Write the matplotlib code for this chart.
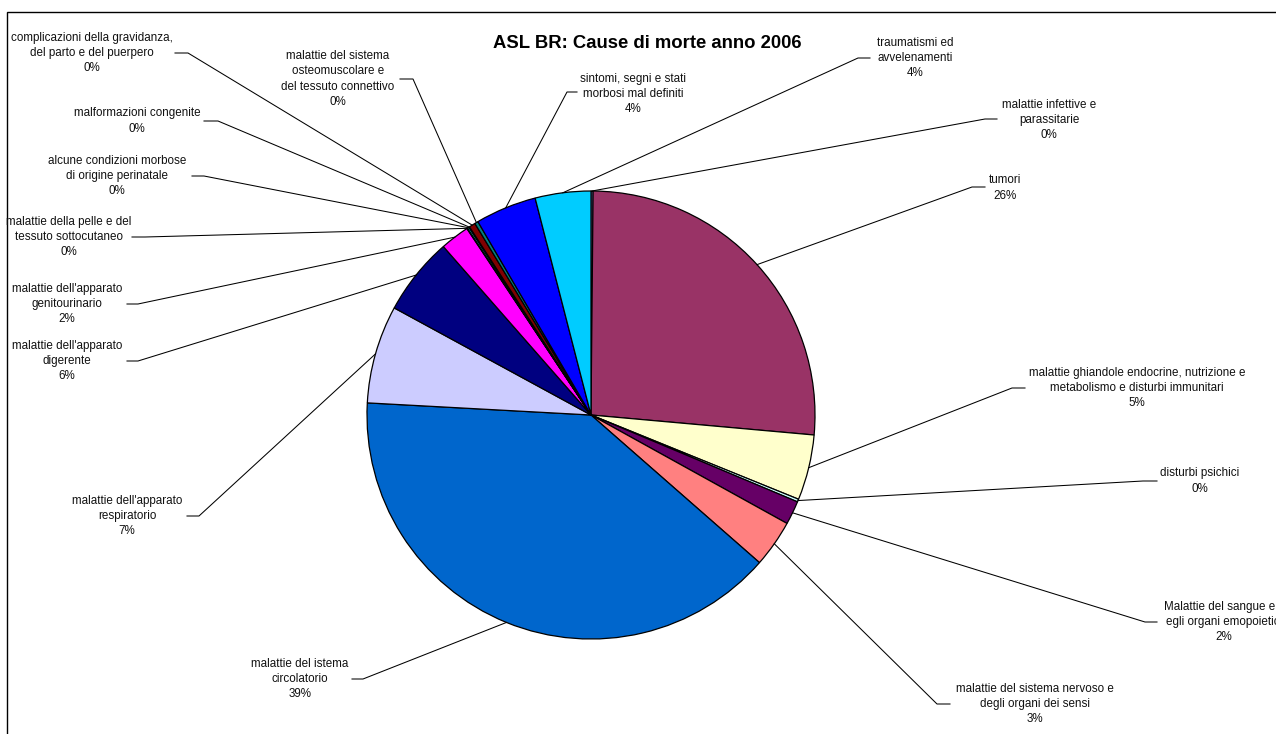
import matplotlib
matplotlib.use("Agg")
import matplotlib.pyplot as plt
from matplotlib.patches import Rectangle
import numpy as np

# cause di morte, in ordine di disegno (senso orario dall'alto)
cause = [
    "malattie infettive e\nparassitarie",
    "tumori",
    "malattie ghiandole endocrine, nutrizione e\nmetabolismo e disturbi immunitari",
    "disturbi psichici",
    "Malattie del sangue e d\negli organi emopoietici",
    "malattie del sistema nervoso e\ndegli organi dei sensi",
    "malattie del istema\ncircolatorio",
    "malattie dell'apparato\nrespiratorio",
    "malattie dell'apparato\ndigerente",
    "malattie dell'apparato\ngenitourinario",
    "malattie della pelle e del\ntessuto sottocutaneo",
    "alcune condizioni morbose\ndi origine perinatale",
    "malformazioni congenite",
    "complicazioni della gravidanza,\ndel parto e del puerpero",
    "malattie del sistema\nosteomuscolare e\ndel tessuto connettivo",
    "sintomi, segni e stati\nmorbosi mal definiti",
    "traumatismi ed\navvelenamenti",
]
quote = [0.15, 26.2, 4.7, 0.2, 1.7, 3.4, 39.3, 7.05, 5.6, 2.1,
         0.05, 0.12, 0.05, 0.45, 0.25, 4.4, 4.0]
colori = ["#9999FF", "#993366", "#FFFFCC", "#CCFFFF", "#660066", "#FF8080",
          "#0066CC", "#CCCCFF", "#000080", "#FF00FF", "#FFFF00", "#00FFFF",
          "#800080", "#800000", "#008080", "#0000FF", "#00CCFF"]

# posizione etichette (pixel, y verso il basso): centro testo, inizio e gomito della linea guida
pos_testo = [(1049, 120), (1005, 188), (1137, 388), (1200, 481), (1224, 622),
             (1035, 704), (300, 679), (127, 516), (67, 361), (67, 304),
             (69, 237), (117, 176), (137, 121), (92, 53), (338, 79),
             (633, 94), (915, 58)]
guida = [(997, 985, 119), (985, 972, 187), (1025, 1012, 388), (1157, 1143, 481),
         (1157, 1145, 622), (950, 937, 704), (352, 363, 679), (187, 199, 516),
         (127, 138, 361), (127, 138, 304), (132, 145, 237), (192, 204, 176),
         (204, 218, 121), (175, 188, 53), (400, 413, 79), (577, 567, 92),
         (870, 858, 58)]

W, H = 1276, 734
fig = plt.figure(figsize=(W / 100, H / 100), dpi=100)
ax = fig.add_axes([0, 0, 1, 1])

centro = (591, H - 415)
raggio = 224
wedges, _ = ax.pie(quote, colors=colori, startangle=90, counterclock=False,
                   center=centro, radius=raggio,
                   wedgeprops=dict(edgecolor="black", linewidth=0.9))

ax.set_xlim(0, W)
ax.set_ylim(0, H)
ax.set_aspect("equal")
ax.axis("off")

tot = sum(quote)
for w, testo, q, (tx, ty), (x0, x1, gy) in zip(wedges, cause, quote, pos_testo, guida):
    ang = np.deg2rad((w.theta1 + w.theta2) / 2)
    px = centro[0] + raggio * np.cos(ang)
    py = centro[1] + raggio * np.sin(ang)
    ax.plot([x0, x1, px], [H - gy, H - gy, py], color="black", lw=0.75,
            solid_joinstyle="miter")
    ax.text(tx, H - ty, f"{testo}\n{round(q / tot * 100)}%", ha="center", va="center",
            multialignment="center", fontsize=8.4, family="Liberation Sans",
            color="#111111", linespacing=1.38)

ax.text(647, H - 43, "ASL BR: Cause di morte anno 2006", ha="center", va="center",
        fontsize=13.3, fontweight="bold", family="Liberation Sans")

ax.add_patch(Rectangle((7, -20), W + 40, H - 12 + 20, fill=False,
                       edgecolor="black", lw=1.0))

fig.savefig("out.png", dpi=100, facecolor="white")
